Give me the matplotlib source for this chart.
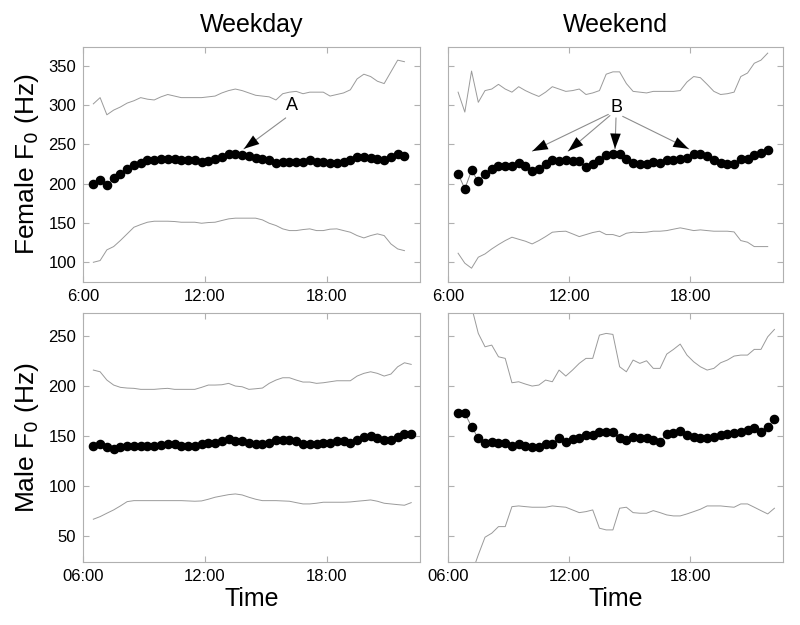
import numpy as np
import matplotlib
matplotlib.use('Agg')
import matplotlib.pyplot as plt

plt.rcParams['font.family'] = ['Liberation Sans', 'DejaVu Sans']

# 20-minute bins, hours of day
t_top = np.arange(6.5, 21.9, 1 / 3)      # 47 bins
t_bot = np.arange(6.5, 22.2, 1 / 3)      # 48 bins

# Female, weekday
wd_f_mean = [199.6, 204.7, 198.7, 207.3, 212.4, 218.4, 223.5, 226.9, 229.5, 229.5,
             231.2, 231.2, 231.2, 229.5, 229.5, 229.5, 227.4, 228.6, 230.8, 233.8,
             237.2, 237.2, 236.8, 234.6, 232.9, 231.2, 229.5, 226.1, 227.4, 227.4,
             227.4, 227.8, 229.5, 227.8, 227.4, 226.1, 226.1, 227.8, 230.3, 233.8,
             233.8, 232.9, 231.6, 229.5, 233.8, 238.0, 235.5]
wd_f_hi = [302, 310, 288, 294, 298, 303, 306, 310, 308, 307, 311, 314, 312, 310, 310,
           310, 310, 311, 312, 316, 319, 321, 319, 316, 313, 312, 311, 307, 315, 317,
           318, 315, 317, 317, 317, 312, 314, 316, 320, 334, 340, 337, 331, 328, 343,
           358, 356]
wd_f_lo = [99.1, 101.3, 115, 119.2, 127, 135.5, 144, 147.4, 150.4, 151.7, 151.7, 151.7,
           151.3, 150.4, 150.4, 150.4, 149.1, 150, 150.4, 152.6, 154.7, 155.6, 155.6,
           155.6, 155.6, 153.4, 149.1, 146.2, 141.9, 139.7, 139.7, 141, 141.9, 139.7,
           139.7, 141.5, 141.9, 139.7, 137.6, 133.3, 130.3, 133.3, 135.5, 133.3, 122.6,
           116.2, 114]

# Female, weekend
we_f_mean = [212.4, 193.2, 216.7, 202.6, 212.4, 218.4, 221.8, 221.8, 221.8, 226.1,
             222.2, 215.8, 218.4, 224.4, 230.3, 228.2, 230.3, 228.6, 228.6, 220.9,
             225.2, 230.3, 235.9, 238.0, 238.0, 231.6, 226.9, 225.2, 225.2, 227.4,
             226.9, 229.5, 229.5, 231.2, 232.9, 237.2, 237.2, 235.5, 230.3, 226.1,
             225.2, 225.2, 231.6, 231.6, 235.9, 238.9, 243.2]
we_f_hi = [317, 291.5, 344, 304, 319, 321, 327, 321, 317, 324, 319, 315, 311.5, 317, 324,
           321, 318, 319, 321, 314, 316, 319, 340, 343, 343, 328, 318, 317, 316, 318,
           318, 318, 318, 319, 330, 337, 335.5, 327, 318, 314, 315, 317, 337, 341.5,
           354, 358, 367]
we_f_lo = [110.7, 97.9, 91.5, 105.6, 109.8, 116.2, 121.8, 126.9, 131.2, 128.6, 126.1,
           122.6, 126.9, 132, 137.6, 138.5, 138.9, 135.5, 132, 134.6, 137.2, 138.9,
           134.6, 134.6, 132, 136.3, 137.6, 137.2, 137.6, 138.9, 138.9, 139.7, 141.5,
           143.2, 141.5, 139.7, 140.6, 139.7, 138.9, 138.9, 138.9, 138, 126.9, 124.8,
           119.2, 119.2, 119.2]

# Male, weekday
wd_m_mean = [140, 142, 139.3, 137, 139.3, 140.3, 140.3, 140.3, 140.3, 140, 141, 142,
             141.7, 140.3, 140, 140.3, 142, 143.3, 143.3, 144.7, 146.7, 145.3, 144.7,
             143.3, 142, 142, 143.3, 146, 146, 146, 144.7, 142, 142, 142, 143.3, 143.3,
             144.7, 144.7, 143.3, 146, 148.7, 150.3, 147.7, 146, 146, 149.3, 152, 152]
wd_m_hi = [216, 214.3, 206, 201, 198.7, 198, 197.7, 196.7, 196.7, 196.7, 197.3, 197.7,
           196.7, 196.7, 196.7, 196.7, 198.7, 201, 201, 201.3, 202.7, 200, 199.3, 196.7,
           197.3, 198, 202.7, 206, 208.3, 208.3, 206, 204, 204, 202.7, 203.3, 204.3,
           205.3, 205.3, 205.3, 210, 212.7, 214.3, 212.7, 210, 212, 219.3, 223.3, 221.7]
wd_m_lo = [66.7, 69.3, 72.7, 76, 80, 84.3, 85.3, 85.3, 85.3, 85.3, 85.3, 85.3, 85.3,
           85.3, 85, 84.7, 85, 86.7, 88.7, 90, 91.3, 92, 91, 88.7, 86.7, 85.3, 85.3,
           85.3, 85, 84.7, 83.3, 82, 82, 82.7, 83.7, 83.7, 83.7, 83.7, 84, 84.7, 85.3,
           86, 84.7, 82.7, 82, 81.3, 80.7, 83.3]

# Male, weekend
we_m_mean = [172.7, 172.7, 159.3, 147.7, 142.7, 144.3, 143.3, 142.7, 140.3, 142, 140,
             138.7, 139.3, 142, 142, 148.3, 144.3, 146.7, 147.7, 151, 151, 153.7, 153.7,
             153.7, 147.7, 146, 149.3, 147.7, 147.7, 146, 144.3, 152, 153.3, 155.3, 151,
             149.3, 148, 148, 149.3, 151, 152, 153.3, 154.3, 156, 157.7, 154.3, 159.3,
             166.7]
we_m_hi = [339, 312.7, 279.3, 252.7, 239.3, 241, 229.3, 227.7, 203.3, 204.3, 202, 200,
           201, 206, 204.3, 216, 210, 216, 222.7, 227.7, 227.7, 251, 252.7, 251.7, 219.3,
           214.3, 226, 222.7, 225.3, 217.7, 217.7, 232, 236.7, 242, 231, 224.3, 219.3,
           216, 217.7, 223.3, 226, 230, 231, 231, 236.7, 236.7, 249.3, 256.7]
we_m_lo = [-25, -5, 12, 31, 48.7, 52.7, 59.3, 59.3, 79.3, 80, 79.3, 78.7, 78.7, 78.7, 80,
           79.3, 78.7, 76, 73.3, 74.3, 76, 57.7, 56, 56, 77.7, 78.7, 73.3, 72.7, 72.7,
           75.3, 73.3, 71, 70, 70, 72, 74.3, 76.7, 80, 80, 80, 79.3, 78.7, 82, 82, 78.7,
           75.3, 72, 77.7]

tick_hours = [6, 12, 18]
top_ticklabels = ['6:00', '12:00', '18:00']
bot_ticklabels = ['06:00', '12:00', '18:00']

fig = plt.figure(figsize=(8, 6.25), dpi=100)
ax_tl = fig.add_axes([0.104, 0.549, 0.421, 0.376])
ax_tr = fig.add_axes([0.560, 0.549, 0.419, 0.376])
ax_bl = fig.add_axes([0.104, 0.101, 0.421, 0.398])
ax_br = fig.add_axes([0.560, 0.101, 0.419, 0.398])

spine_col = '#b0b0b0'
band_col = '#9a9a9a'


def draw_panel(ax, t, mean, hi, lo):
    ax.plot(t, hi, color=band_col, lw=0.7)
    ax.plot(t, lo, color=band_col, lw=0.7)
    ax.plot(t, mean, color='#808080', lw=0.7, marker='o', markersize=5.9,
            markerfacecolor='black', markeredgecolor='black')
    ax.set_xlim(6.03, 22.6)
    ax.set_xticks(tick_hours)
    for s in ax.spines.values():
        s.set_color(spine_col)
        s.set_linewidth(0.8)
    ax.tick_params(direction='in', length=4, color=spine_col, labelsize=12,
                   top=True, right=True, pad=5)


draw_panel(ax_tl, t_top, wd_f_mean, wd_f_hi, wd_f_lo)
draw_panel(ax_tr, t_top, we_f_mean, we_f_hi, we_f_lo)
draw_panel(ax_bl, t_bot, wd_m_mean, wd_m_hi, wd_m_lo)
draw_panel(ax_br, t_bot, we_m_mean, we_m_hi, we_m_lo)

for ax in (ax_tl, ax_tr):
    ax.set_ylim(74, 375)
    ax.set_yticks([100, 150, 200, 250, 300, 350])
    ax.set_xticklabels(top_ticklabels)
for ax in (ax_bl, ax_br):
    ax.set_ylim(24, 273)
    ax.set_yticks([50, 100, 150, 200, 250])
    ax.set_xticklabels(bot_ticklabels)
    ax.set_xlabel('Time', fontsize=18, labelpad=2)
for ax in (ax_tr, ax_br):
    ax.set_yticklabels([])

ax_tl.set_title('Weekday', fontsize=18, pad=11)
ax_tr.set_title('Weekend', fontsize=18, pad=11)
ax_tl.set_ylabel('Female F$_0$ (Hz)', fontsize=19, labelpad=5)
ax_bl.set_ylabel('Male F$_0$ (Hz)', fontsize=19, labelpad=5)


def arrow(ax, start, tip):
    ax.annotate('', xy=tip, xytext=start,
                arrowprops=dict(arrowstyle='-', color='#909090', lw=0.8,
                                shrinkA=0, shrinkB=0))
    ax.annotate('', xy=tip, xytext=start,
                arrowprops=dict(arrowstyle='-|>,head_length=1.1,head_width=0.38',
                                color='black', lw=0.01, shrinkA=0, shrinkB=0))


ax_tl.text(16.27, 300, 'A', fontsize=13, ha='center', va='center')
arrow(ax_tl, (15.98, 284), (13.92, 244.4))

ax_tr.text(14.35, 297, 'B', fontsize=13, ha='center', va='center')
arrow(ax_tr, (13.94, 288.5), (10.18, 241.5))
arrow(ax_tr, (14.02, 287), (11.95, 241.5))
arrow(ax_tr, (14.32, 284), (14.27, 244.4))
arrow(ax_tr, (14.65, 286), (17.92, 244.4))

fig.savefig('out.png', dpi=100)
